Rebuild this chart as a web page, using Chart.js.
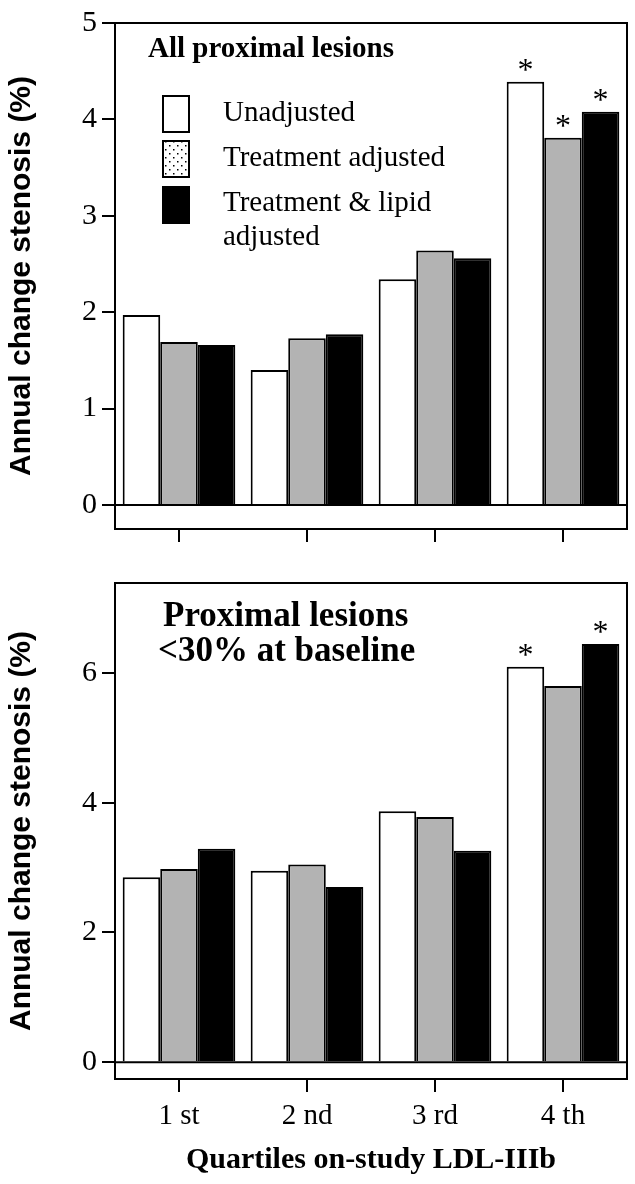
<!DOCTYPE html>
<html>
<head>
<meta charset="utf-8">
<script src="https://cdn.jsdelivr.net/npm/chart.js@4.4.1/dist/chart.umd.min.js"></script>
<style>
  html, body { margin: 0; padding: 0; background: #fff; }
  #wrap { position: relative; width: 635px; height: 1184px; }
  .panel { position: absolute; left: 0; width: 635px; }
  #topPanel { top: 0; height: 560px; }
  #bottomPanel { top: 560px; height: 624px; }
</style>
</head>
<body>
<div id="wrap">
  <div class="panel" id="topPanel"><canvas id="chartTop"></canvas></div>
  <div class="panel" id="bottomPanel"><canvas id="chartBottom"></canvas></div>
</div>
<script>
// data
const quartiles = ['1 st', '2 nd', '3 rd', '4 th'];
const seriesNames = ['Unadjusted', 'Treatment adjusted', 'Treatment & lipid adjusted'];
const legendLines = [['Unadjusted'], ['Treatment adjusted'], ['Treatment & lipid', 'adjusted']];

// all proximal lesions
const allUnadjusted = [1.97, 1.40, 2.34, 4.39];
const allTreatment = [1.69, 1.73, 2.64, 3.81];
const allLipid = [1.66, 1.77, 2.56, 4.08];
const allStars = [[0, 0, 0, 1], [0, 0, 0, 1], [0, 0, 0, 1]];

// proximal lesions <30% at baseline
const lowUnadjusted = [2.85, 2.95, 3.87, 6.10];
const lowTreatment = [2.98, 3.05, 3.78, 5.80];
const lowLipid = [3.29, 2.70, 3.26, 6.45];
const lowStars = [[0, 0, 0, 1], [0, 0, 0, 0], [0, 0, 0, 1]];

const topTicks = [0, 1, 2, 3, 4, 5];
const bottomTicks = [0, 2, 4, 6];

const SERIF = '"Liberation Serif", "Times New Roman", serif';
const SANS = '"Liberation Sans", Arial, sans-serif';

Chart.defaults.font.family = SERIF;
Chart.defaults.color = '#000';

// dotted fill for the legend swatch
function dotPattern() {
  const c = document.createElement('canvas');
  c.width = 8; c.height = 8;
  const g = c.getContext('2d');
  g.fillStyle = '#fff';
  g.fillRect(0, 0, 8, 8);
  g.fillStyle = '#000';
  g.fillRect(1, 1, 1.5, 1.5);
  g.fillRect(5, 5, 1.5, 1.5);
  return g.createPattern(c, 'repeat');
}

// frame, zero line, panel title, legend, stars
const panelDecor = {
  id: 'panelDecor',
  afterDatasetsDraw(chart, args, opts) {
    const ctx = chart.ctx;
    const a = chart.chartArea;
    ctx.save();
    ctx.strokeStyle = '#000';
    ctx.lineWidth = 2;
    ctx.strokeRect(a.left, a.top, a.right - a.left, a.bottom - a.top);

    const y0 = chart.scales.y.getPixelForValue(0);
    ctx.beginPath();
    ctx.moveTo(a.left, y0);
    ctx.lineTo(a.right, y0);
    ctx.stroke();

    // title
    ctx.fillStyle = '#000';
    ctx.textAlign = 'left';
    ctx.textBaseline = 'middle';
    ctx.font = 'bold ' + opts.titleSize + 'px ' + SERIF;
    opts.title.forEach((line, i) => {
      ctx.fillText(line, opts.titleX[i], opts.titleY + i * opts.titleGap);
    });

    // legend
    if (opts.legend) {
      const fills = ['#fff', dotPattern(), '#000'];
      const boxY = [96, 141, 187];
      const textY = [[113], [158], [203, 237]];
      ctx.font = '29px ' + SERIF;
      legendLines.forEach((lines, i) => {
        ctx.fillStyle = fills[i];
        ctx.fillRect(163, boxY[i], 26, 36);
        ctx.lineWidth = 2;
        ctx.strokeRect(163, boxY[i], 26, 36);
        ctx.fillStyle = '#000';
        lines.forEach((t, k) => ctx.fillText(t, 223, textY[i][k]));
      });
    }

    // significance stars
    ctx.font = '32px ' + SERIF;
    ctx.textAlign = 'center';
    ctx.textBaseline = 'alphabetic';
    opts.stars.forEach((row, i) => {
      const meta = chart.getDatasetMeta(i);
      row.forEach((s, j) => {
        if (!s) return;
        const bar = meta.data[j];
        ctx.fillText('*', bar.x, bar.y - 2);
      });
    });
    ctx.restore();
  }
};

function makeDatasets(a, b, c) {
  return [
    { label: seriesNames[0], data: a, backgroundColor: '#fff', borderColor: '#000', borderWidth: 2 },
    { label: seriesNames[1], data: b, backgroundColor: '#b3b3b3', borderColor: '#000', borderWidth: 2 },
    { label: seriesNames[2], data: c, backgroundColor: '#000', borderColor: '#000', borderWidth: 2 }
  ];
}

function makeChart(id, cfg) {
  return new Chart(document.getElementById(id), {
    type: 'bar',
    data: { labels: quartiles, datasets: makeDatasets(cfg.a, cfg.b, cfg.c) },
    plugins: [panelDecor],
    options: {
      responsive: true,
      maintainAspectRatio: false,
      animation: false,
      categoryPercentage: 0.88,
      barPercentage: 1.0,
      layout: { padding: { left: 0, right: 8, top: cfg.padTop, bottom: 0 } },
      plugins: {
        legend: { display: false },
        tooltip: { enabled: false },
        panelDecor: cfg.decor
      },
      scales: {
        x: {
          grid: { offset: false, drawOnChartArea: false, color: '#000', lineWidth: 2, tickLength: 13 },
          border: { display: true, color: '#000', width: 2 },
          ticks: { display: cfg.showX, font: { size: 29 }, padding: 7, color: '#000' },
          title: {
            display: cfg.showX,
            text: 'Quartiles on-study LDL-IIIb',
            font: { size: 30, weight: 'bold' },
            color: '#000',
            padding: { top: 0, bottom: 6 }
          },
          afterFit: s => { s.height = cfg.xHeight; }
        },
        y: {
          min: cfg.min,
          max: cfg.max,
          afterBuildTicks: s => { s.ticks = cfg.ticks.map(v => ({ value: v })); },
          grid: { drawOnChartArea: false, color: '#000', lineWidth: 2, tickLength: 13 },
          border: { display: true, color: '#000', width: 2 },
          ticks: { font: { size: 30 }, padding: 5, color: '#000' },
          title: {
            display: true,
            text: 'Annual change stenosis (%)',
            font: { family: SANS, size: 30, weight: 'bold' },
            color: '#000',
            padding: { top: 4, bottom: 0 }
          },
          afterFit: s => { s.width = 115; }
        }
      }
    }
  });
}

makeChart('chartTop', {
  a: allUnadjusted, b: allTreatment, c: allLipid,
  min: -0.25, max: 5, ticks: topTicks,
  padTop: 19, xHeight: 31, showX: false,
  decor: { title: ['All proximal lesions'], titleSize: 29, titleX: [148], titleY: 50, titleGap: 0, legend: true, stars: allStars }
});

makeChart('chartBottom', {
  a: lowUnadjusted, b: lowTreatment, c: lowLipid,
  min: -0.26, max: 7.39, ticks: bottomTicks,
  padTop: 13, xHeight: 105, showX: true,
  decor: { title: ['Proximal lesions', '<30% at baseline'], titleSize: 35, titleX: [163, 158], titleY: 57, titleGap: 35, legend: false, stars: lowStars }
});
</script>
</body>
</html>
